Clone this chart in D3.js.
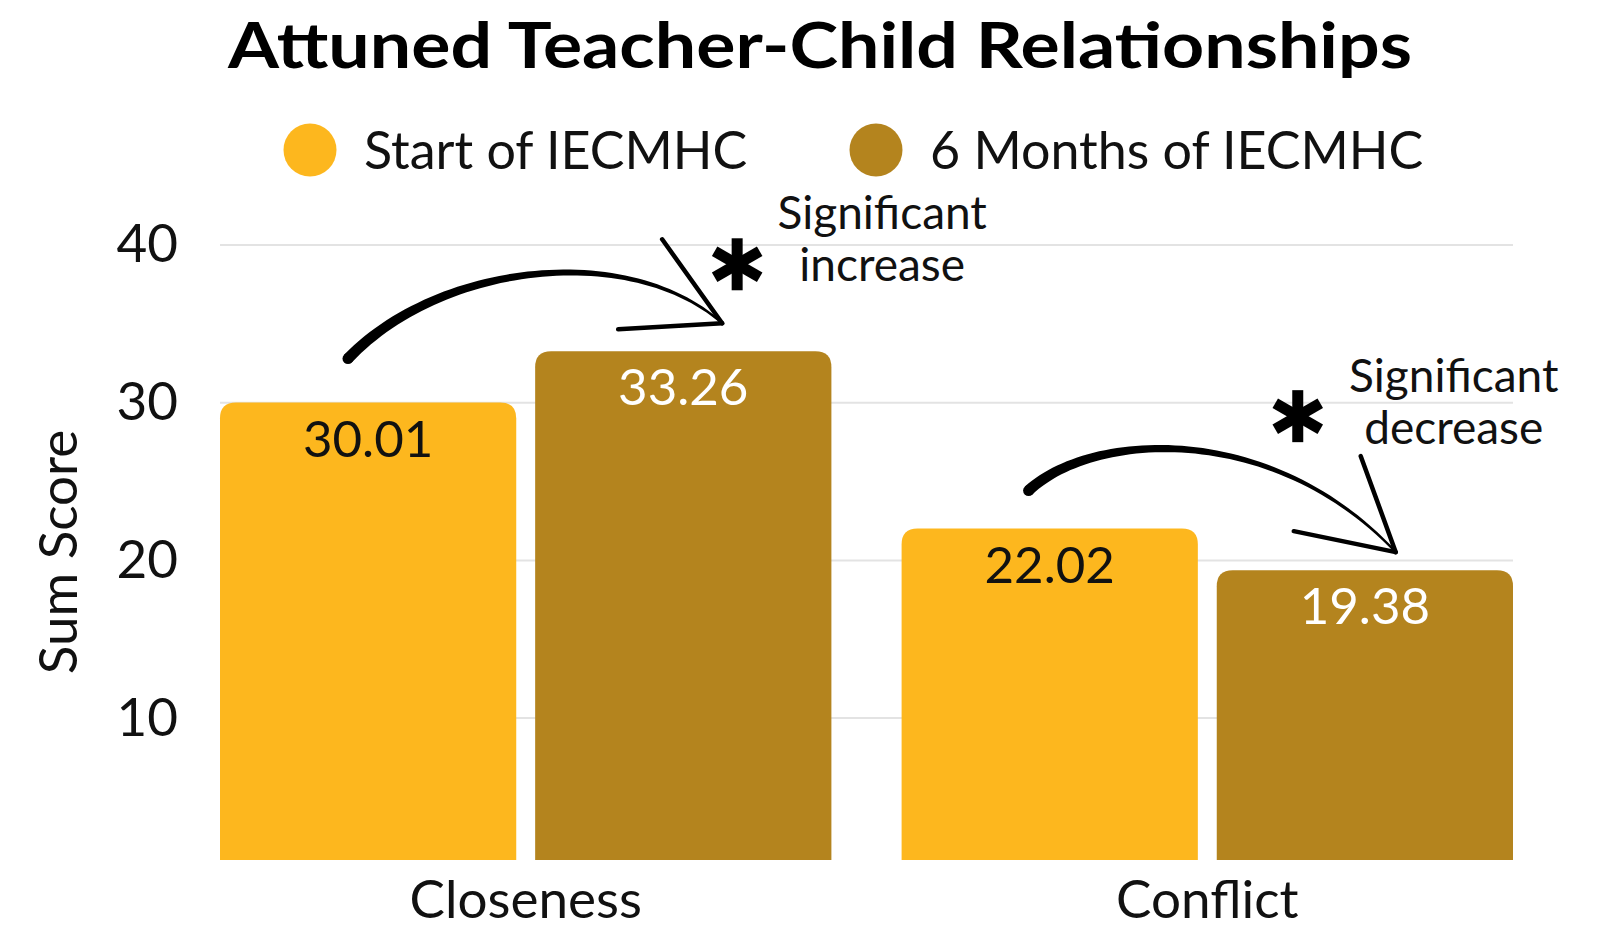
<!DOCTYPE html>
<html>
<head>
<meta charset="utf-8">
<script src="https://cdn.jsdelivr.net/npm/d3@7"></script>
<style>
  body { margin: 0; background: #fff; }
  text { font-family: Lato, "Open Sans", sans-serif; }
</style>
</head>
<body>
<div id="chart"></div>
<script>
var width = 1606,
    height = 930,
    margin = { top: 245, right: 93, bottom: 70, left: 220 };

// data
var categories = ["Closeness", "Conflict"];
var seriesNames = ["Start of IECMHC", "6 Months of IECMHC"];
var startValues = [30.01, 22.02];
var sixMonthValues = [33.26, 19.38];
var yTicks = [10, 20, 30, 40];
var noteLines = [["Significant", "increase"], ["Significant", "decrease"]];

var seriesColors = ["#FDB71E", "#B4841E"];
var valueColors = ["#111", "#fff"];

var svg = d3.select("#chart")
    .append("svg")
    .attr("width", width)
    .attr("height", height);

var plotBottom = height - margin.bottom;

var y = d3.scaleLinear()
    .domain([1, 40])
    .range([plotBottom, margin.top]);

var x0 = d3.scaleBand()
    .domain(categories)
    .range([margin.left, width - margin.right])
    .paddingInner(0.103)
    .paddingOuter(0);

var x1 = d3.scaleBand()
    .domain([0, 1])
    .range([0, x0.bandwidth()])
    .paddingInner(0.06);

// title
svg.append("text")
    .attr("x", 820)
    .attr("y", 68)
    .attr("text-anchor", "middle")
    .attr("textLength", 1184)
    .attr("lengthAdjust", "spacingAndGlyphs")
    .style("font-weight", "bold")
    .style("font-size", "64px")
    .style("fill", "#000")
    .text("Attuned Teacher-Child Relationships");

// legend
var legendX = [310, 876];
var legend = svg.selectAll("g.legend")
    .data(seriesNames)
    .enter()
    .append("g")
    .attr("class", "legend")
    .attr("transform", (d, i) => `translate(${legendX[i]}, 150)`);

legend.append("circle")
    .attr("r", 26.5)
    .style("fill", (d, i) => seriesColors[i]);

legend.append("text")
    .attr("x", 54)
    .attr("y", 19)
    .style("font-size", "52px")
    .style("fill", "#111")
    .text(d => d);

// gridlines
svg.append("g")
    .selectAll("line")
    .data(yTicks)
    .enter()
    .append("line")
    .attr("x1", margin.left)
    .attr("x2", width - margin.right)
    .attr("y1", d => y(d))
    .attr("y2", d => y(d))
    .style("stroke", "#e3e3e3")
    .style("stroke-width", 2);

// y axis
var yAxis = d3.axisLeft(y)
    .tickValues(yTicks)
    .tickSize(0)
    .tickPadding(42);

var yAxisG = svg.append("g")
    .attr("transform", `translate(${margin.left}, 0)`)
    .call(yAxis);
yAxisG.select(".domain").remove();
yAxisG.selectAll("text")
    .style("font-family", "Lato, sans-serif")
    .style("font-size", "53px")
    .style("fill", "#111");

svg.append("text")
    .attr("transform", "rotate(-90)")
    .attr("x", -552)
    .attr("y", 77)
    .attr("text-anchor", "middle")
    .style("font-size", "53px")
    .style("fill", "#111")
    .text("Sum Score");

// bars
function topRounded(x, yTop, w, h, r) {
    return `M${x},${yTop + h}` +
        `V${yTop + r}` +
        `Q${x},${yTop} ${x + r},${yTop}` +
        `H${x + w - r}` +
        `Q${x + w},${yTop} ${x + w},${yTop + r}` +
        `V${yTop + h}Z`;
}

var barData = [];
categories.forEach(function (c, ci) {
    [startValues[ci], sixMonthValues[ci]].forEach(function (v, si) {
        barData.push({ cat: c, ci: ci, series: si, value: v });
    });
});

function barX(d) { return x0(d.cat) + x1(d.series); }

svg.append("g")
    .selectAll("path")
    .data(barData)
    .enter()
    .append("path")
    .attr("d", d => topRounded(barX(d), y(d.value), x1.bandwidth(), plotBottom - y(d.value), 16))
    .style("fill", d => seriesColors[d.series]);

svg.append("g")
    .selectAll("text")
    .data(barData)
    .enter()
    .append("text")
    .attr("x", d => barX(d) + x1.bandwidth() / 2)
    .attr("y", d => y(d.value) + 54)
    .attr("text-anchor", "middle")
    .style("font-size", "51px")
    .style("fill", d => valueColors[d.series])
    .text(d => d.value.toFixed(2));

// category labels
svg.append("g")
    .selectAll("text")
    .data(categories)
    .enter()
    .append("text")
    .attr("x", d => x0(d) + x0.bandwidth() / 2)
    .attr("y", 918)
    .attr("text-anchor", "middle")
    .style("font-size", "53px")
    .style("fill", "#111")
    .text(d => d);

// significance annotations, anchored on the bars
var annotations = [
    {
        start: [barX(barData[0]) + 128, y(startValues[0]) - 44],
        tip: [barX(barData[1]) + 187, y(sixMonthValues[0]) - 28],
        c1: [92, -96], c2: [-92, -82],
        head: [[-60, -84], [-104, 6]],
        star: [15, -59],
        note: [160, -94],
        lines: noteLines[0]
    },
    {
        start: [barX(barData[2]) + 127, y(startValues[1]) - 38],
        tip: [barX(barData[3]) + 179, y(sixMonthValues[1]) - 18],
        c1: [62, -58], c2: [-125, -133],
        head: [[-35, -96], [-102, -21]],
        star: [-98, -136],
        note: [58, -160],
        lines: noteLines[1]
    }
];

function taperedCurve(a) {
    var p0 = a.start,
        p3 = a.tip,
        p1 = [p0[0] + a.c1[0], p0[1] + a.c1[1]],
        p2 = [p3[0] + a.c2[0], p3[1] + a.c2[1]];
    var left = [], right = [];
    var n = 60;
    for (var i = 0; i <= n; i++) {
        var t = i / n, mt = 1 - t;
        var px = mt * mt * mt * p0[0] + 3 * mt * mt * t * p1[0] + 3 * mt * t * t * p2[0] + t * t * t * p3[0];
        var py = mt * mt * mt * p0[1] + 3 * mt * mt * t * p1[1] + 3 * mt * t * t * p2[1] + t * t * t * p3[1];
        var dx = 3 * mt * mt * (p1[0] - p0[0]) + 6 * mt * t * (p2[0] - p1[0]) + 3 * t * t * (p3[0] - p2[0]);
        var dy = 3 * mt * mt * (p1[1] - p0[1]) + 6 * mt * t * (p2[1] - p1[1]) + 3 * t * t * (p3[1] - p2[1]);
        var len = Math.sqrt(dx * dx + dy * dy) || 1;
        var w = (11 * (1 - t) + 2.2 * t) / 2;
        left.push([px - dy / len * w, py + dx / len * w]);
        right.push([px + dy / len * w, py - dx / len * w]);
    }
    return d3.line()(left.concat(right.reverse())) + "Z";
}

var ann = svg.append("g").attr("class", "annotations");

annotations.forEach(function (a) {
    ann.append("path")
        .attr("d", taperedCurve(a))
        .style("fill", "#000");

    ann.append("circle")
        .attr("cx", a.start[0])
        .attr("cy", a.start[1])
        .attr("r", 5.5)
        .style("fill", "#000");

    a.head.forEach(function (h) {
        ann.append("line")
            .attr("x1", a.tip[0] + h[0])
            .attr("y1", a.tip[1] + h[1])
            .attr("x2", a.tip[0])
            .attr("y2", a.tip[1])
            .style("stroke", "#000")
            .style("stroke-width", 4.5)
            .style("stroke-linecap", "round");
    });

    // six-armed asterisk
    var sx = a.tip[0] + a.star[0],
        sy = a.tip[1] + a.star[1];
    [90, 30, 150].forEach(function (deg) {
        var rad = deg * Math.PI / 180;
        ann.append("line")
            .attr("x1", sx - Math.cos(rad) * 26)
            .attr("y1", sy - Math.sin(rad) * 26)
            .attr("x2", sx + Math.cos(rad) * 26)
            .attr("y2", sy + Math.sin(rad) * 26)
            .style("stroke", "#000")
            .style("stroke-width", 11);
    });
    ann.append("circle")
        .attr("cx", sx)
        .attr("cy", sy)
        .attr("r", 9)
        .style("fill", "#000");

    var nt = ann.append("text")
        .attr("text-anchor", "middle")
        .style("font-size", "46px")
        .style("fill", "#111");
    a.lines.forEach(function (l, i) {
        nt.append("tspan")
            .attr("x", a.tip[0] + a.note[0])
            .attr("y", a.tip[1] + a.note[1] + i * 52)
            .text(l);
    });
});
</script>
</body>
</html>
